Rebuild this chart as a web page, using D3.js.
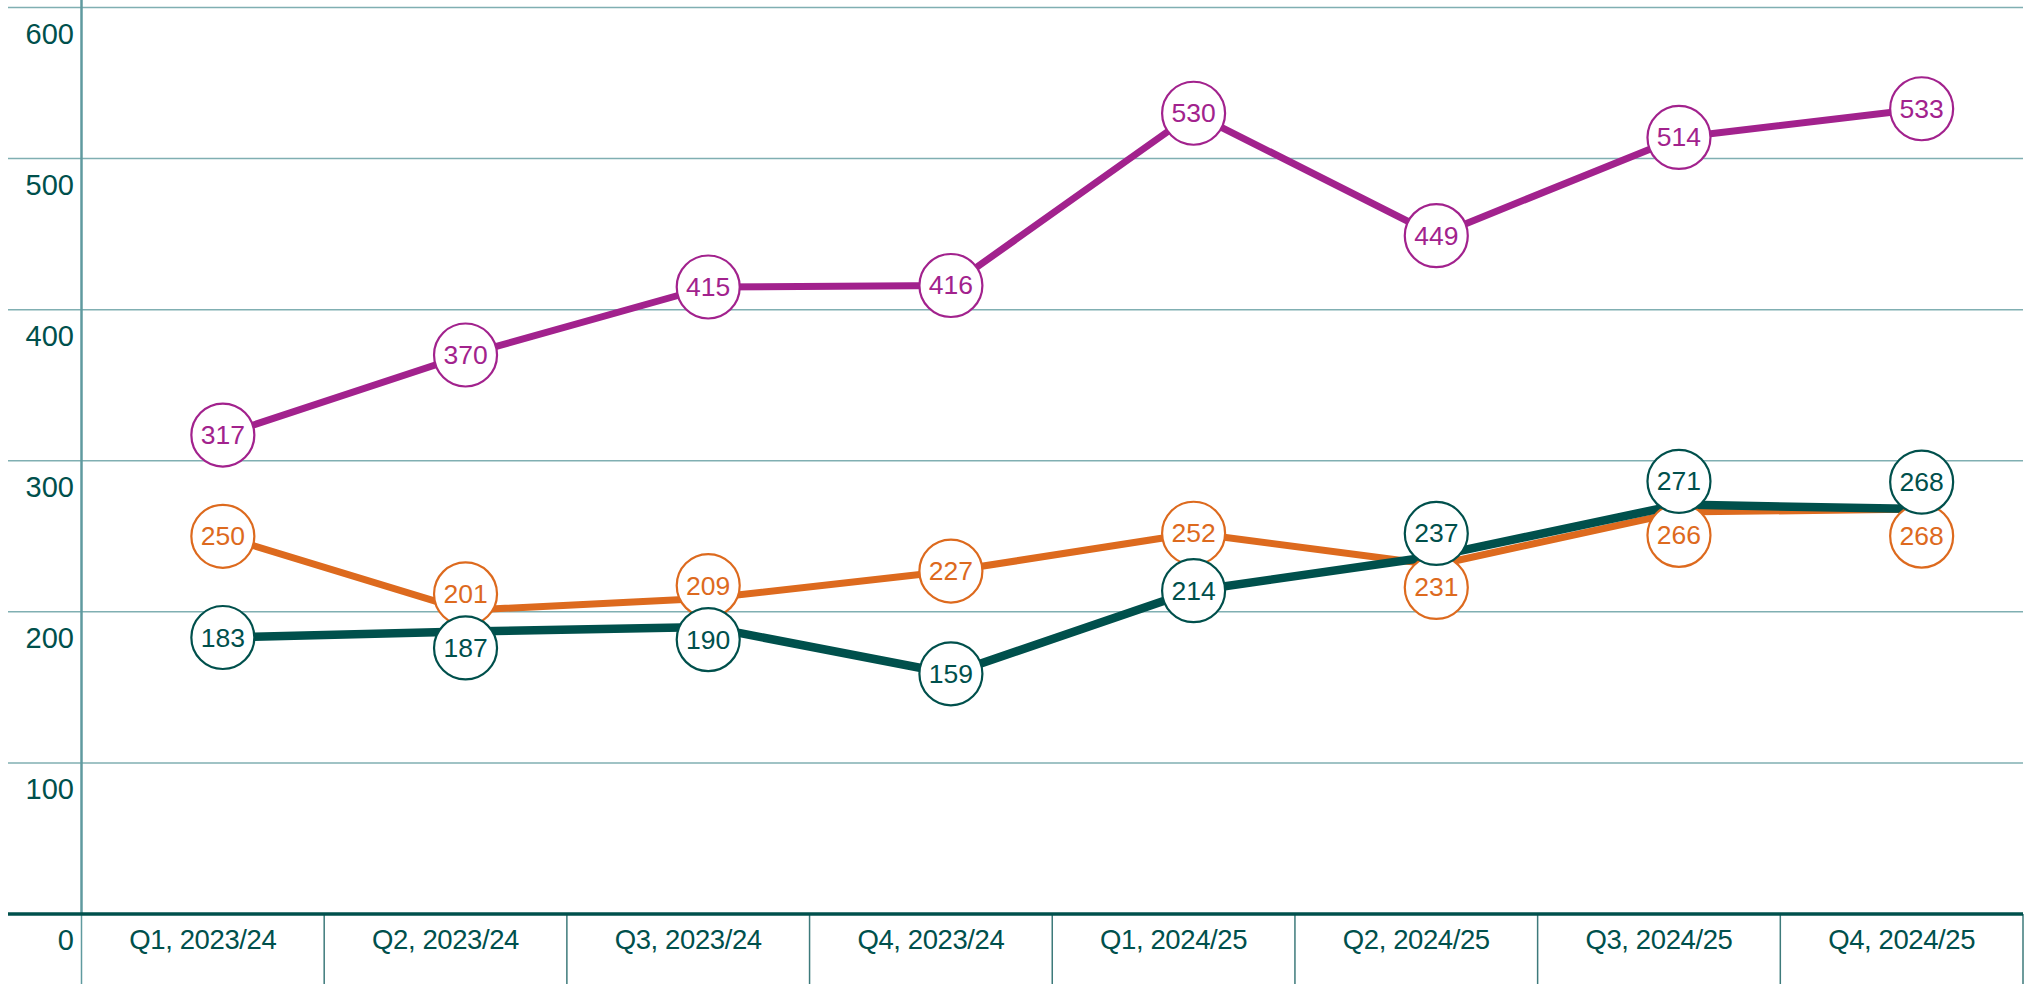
<!DOCTYPE html>
<html>
<head>
<meta charset="utf-8">
<script src="https://cdn.jsdelivr.net/npm/d3@7"></script>
<style>
  html, body { margin: 0; padding: 0; background: #fff; }
  svg { display: block; font-family: "Liberation Sans", Arial, sans-serif; }
</style>
</head>
<body>
<div id="chart"></div>
<script>
// quarters on the x axis
var quarters = ["Q1, 2023/24", "Q2, 2023/24", "Q3, 2023/24", "Q4, 2023/24",
                "Q1, 2024/25", "Q2, 2024/25", "Q3, 2024/25", "Q4, 2024/25"];
var yTicks = [0, 100, 200, 300, 400, 500, 600];

// three series
var purpleValues = [317, 370, 415, 416, 530, 449, 514, 533];
var orangeValues = [250, 201, 209, 227, 252, 231, 266, 268];
var tealValues   = [183, 187, 190, 159, 214, 237, 271, 268];

var series = [
    { name: "purple", values: purpleValues, color: "#a2228d", width: 7,   rank: 2 },
    { name: "orange", values: orangeValues, color: "#dd6a1e", width: 7,   rank: 1 },
    { name: "teal",   values: tealValues,   color: "#00504c", width: 8.5, rank: 0 }
];

var width = 2031, height = 984;
var margin = { top: 7.5, left: 81.5, right: 8, bottom: 70 };
var dark = "#00504c", grid = "#80afb2";

var svg = d3.select("#chart").append("svg")
    .attr("width", width)
    .attr("height", height);

var x = d3.scaleBand()
    .domain(quarters)
    .range([margin.left, width - margin.right]);

var y = d3.scaleLinear()
    .domain([0, 600])
    .range([height - margin.bottom, margin.top]);

// points sit a little right of the band centre
var px = q => x(q) + x.bandwidth() / 2 + 20;

// horizontal gridlines
svg.append("g")
    .selectAll("line")
    .data(yTicks.filter(d => d > 0))
    .enter().append("line")
    .attr("x1", 8).attr("x2", width - margin.right)
    .attr("y1", d => y(d)).attr("y2", d => y(d))
    .attr("stroke", grid)
    .attr("stroke-width", 1.5);

// y axis line
svg.append("line")
    .attr("x1", margin.left).attr("x2", margin.left)
    .attr("y1", 0).attr("y2", y(0))
    .attr("stroke", "#5f9a9f")
    .attr("stroke-width", 2.5);

// y tick labels, hanging below their gridline
svg.append("g")
    .selectAll("text")
    .data(yTicks)
    .enter().append("text")
    .attr("x", 74)
    .attr("y", d => y(d) + 26)
    .attr("text-anchor", "end")
    .attr("dominant-baseline", "central")
    .attr("fill", dark)
    .style("font-size", "29px")
    .text(d => d);

// x axis: category cells under the zero line
var xAxis = g => g
    .attr("transform", `translate(0, ${y(0)})`)
    .call(d3.axisBottom(x).tickSize(0).tickPadding(0))
    .call(g => g.select(".domain").remove())
    .call(g => g.selectAll("text")
        .attr("y", 25)
        .attr("dy", null)
        .attr("dominant-baseline", "central")
        .attr("fill", dark)
        .style("font-size", "27.5px")
        .style("font-family", "'Liberation Sans', Arial, sans-serif")
        .style("letter-spacing", "-0.4px"));
svg.append("g").call(xAxis);

svg.append("g")
    .selectAll("line")
    .data(quarters.map(q => x(q)).concat([x.range()[1]]))
    .enter().append("line")
    .attr("x1", d => d).attr("x2", d => d)
    .attr("y1", y(0)).attr("y2", height)
    .attr("stroke", (d, i) => i === 0 ? "#5f9a9f" : "#3d7a7b")
    .attr("stroke-width", 1.5);

// zero line
svg.append("line")
    .attr("x1", 8).attr("x2", width - margin.right)
    .attr("y1", y(0)).attr("y2", y(0))
    .attr("stroke", dark)
    .attr("stroke-width", 3.5);

// lines
var line = d3.line()
    .x((d, i) => px(quarters[i]))
    .y(d => y(d));

svg.append("g")
    .selectAll("path")
    .data(series)
    .enter().append("path")
    .attr("d", s => line(s.values))
    .attr("fill", "none")
    .attr("stroke", s => s.color)
    .attr("stroke-width", s => s.width)
    .attr("stroke-linejoin", "round");

// label positions: start at the point, push apart labels that collide
var minGap = 54;
var labels = [];
quarters.forEach((q, i) => {
    var col = series.map(s => ({ s: s, v: s.values[i], x: px(q), y: y(s.values[i]) }));
    col.sort((a, b) => (a.y - b.y) || (a.s.rank - b.s.rank));
    for (var k = 1; k < col.length; k++) {
        var a = col[k - 1], b = col[k];
        if (b.y - a.y < minGap) {
            var mid = (a.y + b.y) / 2;
            a.y = mid - minGap / 2;
            b.y = mid + minGap / 2;
        }
    }
    labels = labels.concat(col);
});

var order = { purple: 0, orange: 1, teal: 2 };
labels.sort((a, b) => order[a.s.name] - order[b.s.name]);

var marks = svg.append("g")
    .selectAll("g")
    .data(labels)
    .enter().append("g")
    .attr("transform", d => `translate(${d.x}, ${d.y})`);

marks.append("circle")
    .attr("r", 31.5)
    .attr("fill", "#fff")
    .attr("stroke", d => d.s.color)
    .attr("stroke-width", 2.2);

marks.append("text")
    .attr("text-anchor", "middle")
    .attr("dominant-baseline", "central")
    .attr("fill", d => d.s.color)
    .style("font-size", "26.5px")
    .text(d => d.v);
</script>
</body>
</html>
